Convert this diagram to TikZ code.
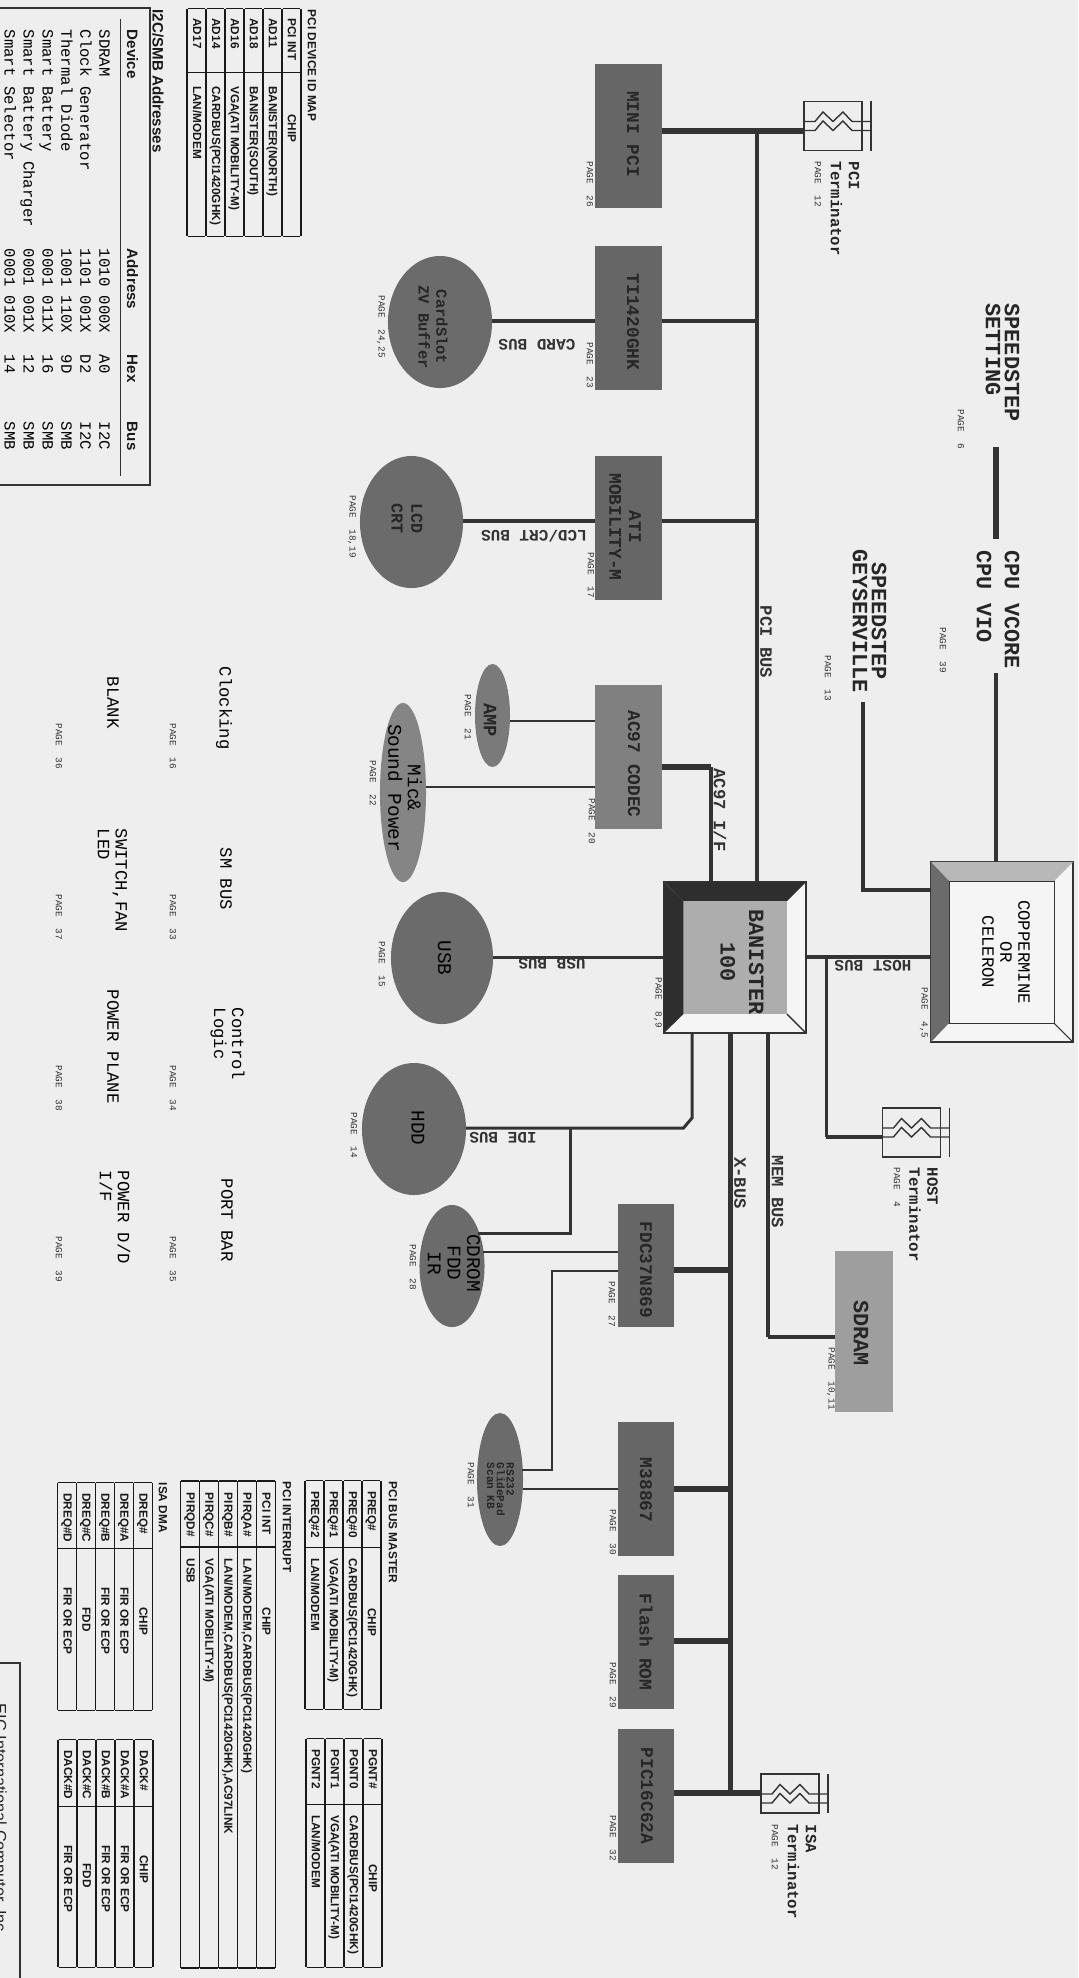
\documentclass[tikz,border=0pt]{standalone}
\usepackage{fontspec}
\setsansfont{Liberation Sans}
\setmonofont{Liberation Mono}
\usetikzlibrary{shapes,positioning}
\definecolor{paper}{gray}{0.935}
\definecolor{ink}{gray}{0.2}
\setlength{\tabcolsep}{0pt}

\begin{document}
\begin{tikzpicture}[
    x=0.01cm, y=-0.01cm,
    chipb/.style={rectangle, fill=black!60, inner sep=0pt, outer sep=0pt, minimum width=0.67cm, minimum height=1.44cm},
    chipx/.style={rectangle, fill=black!60, inner sep=0pt, outer sep=0pt, minimum width=0.565cm, minimum height=1.34cm},
    disc/.style={ellipse, fill=black!58, inner sep=0pt, outer sep=0pt},
    termbox/.style={rectangle, draw=ink, line width=0.4pt, inner sep=0pt, outer sep=0pt, minimum width=0.58cm, minimum height=0.49cm},
    bigtxt/.style={rotate=-90, inner sep=0pt, text=black!85, align=center, font=\ttfamily\bfseries\fontsize{6.2}{5.4}\selectfont},
    chiptxt/.style={rotate=-90, inner sep=0pt, text=black!85, align=center, font=\ttfamily\bfseries\fontsize{5.07}{5.6}\selectfont},
    disctxt/.style={rotate=-90, inner sep=0pt, text=black, align=center, font=\ttfamily\fontsize{5.5}{5.6}\selectfont},
    bustxt/.style={inner sep=0pt, text=black!80, font=\ttfamily\bfseries\fontsize{4.55}{5.4}\selectfont},
    sidetxt/.style={rotate=-90, anchor=west, inner sep=0pt, text=black!85, align=left, font=\ttfamily\bfseries\fontsize{4.45}{5.1}\selectfont},
    thintxt/.style={rotate=-90, anchor=west, inner sep=0pt, text=black, align=left, font=\ttfamily\fontsize{4.9}{5.1}\selectfont},
    pagetxt/.style={rotate=-90, anchor=west, inner sep=0pt, text=black!80, font=\ttfamily\fontsize{2.67}{4}\selectfont},
    tbl/.style={rotate=-90, inner sep=0pt, text=black!90, font=\sffamily\bfseries\fontsize{3.35}{5}\selectfont},
    tbltitle/.style={rotate=-90, anchor=west, inner sep=0pt, text=black!90, font=\sffamily\bfseries\fontsize{3.36}{4}\selectfont},
    bus/.style={draw=ink, line width=1.35pt},
    thickbus/.style={draw=ink, line width=1.7pt},
    midbus/.style={draw=ink, line width=0.85pt},
    thinbus/.style={draw=ink, line width=0.55pt},
    termzig/.pic={
        \draw[ink, line width=0.4pt] (0,20) -- (11,20) -- (19,10.5) -- (29,20) -- (39,10.5) -- (48,20) -- (67,20);
        \draw[ink, line width=0.4pt] (0,29) -- (11,29) -- (19,19.5) -- (29,29) -- (39,19.5) -- (48,29) -- (67,29);
    }
]
\useasboundingbox (0,0) rectangle (1078,1978);
\fill[paper] (0,0) rectangle (1078,1978);

% PCI side
\node[chipb] (minipci) at (628.5,136) {};
\node[chipb, below=0.38cm of minipci] (ti) {};
\node[chipb, below=0.66cm of ti] (ati) {};
\node[chipb, below=0.85cm of ati, fill=black!50] (ac97) {};
\node[chiptxt] (minipcilabel) at (633,134) {MINI PCI};
\node[chiptxt] (tilabel) at (633,322) {TI1420GHK};
\node[chiptxt] (atilabel) at (625,527) {ATI\\MOBILITY-M};
\node[chiptxt] (ac97label) at (634,764) {AC97 CODEC};
\node[pagetxt] (minipcipage) at (590,161) {PAGE~~26};
\node[pagetxt] (tipage) at (590,342) {PAGE~~23};
\node[pagetxt] (atipage) at (591,552) {PAGE~~17};
\node[pagetxt] (ac97page) at (592,798) {PAGE~~20};

\node[disc, minimum width=1.04cm, minimum height=1.32cm] (cardslot) at (440,322) {};
\node[disc, minimum width=1.03cm, minimum height=1.32cm] (lcd) at (411.5,522) {};
\node[disc, minimum width=0.35cm, minimum height=1.03cm, fill=black!52] (amp) at (492.5,715.5) {};
\node[disc, minimum width=0.46cm, minimum height=1.79cm, fill=black!48] (mic) at (403,792.5) {};
\node[disc, minimum width=1.02cm, minimum height=1.32cm] (usb) at (442,958) {};
\node[disc, minimum width=1.04cm, minimum height=1.32cm] (hdd) at (414,1129) {};
\node[chiptxt, font=\ttfamily\bfseries\fontsize{4.4}{5.1}\selectfont] (cardslotlabel) at (433,327) {CardSlot\\ZV Buffer};
\node[chiptxt, font=\ttfamily\bfseries\fontsize{4.74}{5.6}\selectfont] (lcdlabel) at (407,518) {LCD\\CRT};
\node[chiptxt, font=\ttfamily\bfseries\fontsize{5.35}{5.6}\selectfont] (amplabel) at (490,720) {AMP};
\node[disctxt] (miclabel) at (405,788) {Mic\&\\Sound Power};
\node[disctxt] (usblabel) at (444.5,958) {USB};
\node[disctxt] (hddlabel) at (418,1128) {HDD};
\node[pagetxt] (cardslotpage) at (381,295) {PAGE~~24,25};
\node[pagetxt] (lcdpage) at (352,495) {PAGE~~18,19};
\node[pagetxt] (amppage) at (468,694) {PAGE~~21};
\node[pagetxt] (micpage) at (373,760) {PAGE~~22};
\node[pagetxt] (usbpage) at (382,941) {PAGE~~15};
\node[pagetxt] (hddpage) at (354,1112) {PAGE~~14};

% Banister
\node[rectangle, draw=ink, fill=white!96!black, line width=0.4pt, inner sep=0pt, outer sep=0pt, minimum width=1.42cm, minimum height=1.51cm] (banister) at (735,957.5) {};
\node[rectangle, fill=black!32, inner sep=0pt, outer sep=0pt, minimum width=1.035cm, minimum height=1.13cm] (banisterin) at (735.25,957.5) {};
\fill[black!82] (banister.north west) -- (banister.north east) -- (banisterin.north east) -- (banisterin.north west) -- cycle;
\fill[black!82] (banister.north west) -- (banisterin.north west) -- (banisterin.south west) -- (banister.south west) -- cycle;
\draw[ink, line width=0.4pt] (banister.south east) -- (banisterin.south east);
\node[bigtxt, font=\ttfamily\bfseries\fontsize{6.2}{8.1}\selectfont] (banisterlabel) at (742,962) {BANISTER\\100};
\node[pagetxt] (banisterpage) at (658,977) {PAGE~~8,9};

% CPU
\node[rectangle, draw=ink, fill=white!96!black, line width=0.4pt, inner sep=0pt, outer sep=0pt, minimum width=1.42cm, minimum height=1.80cm] (cpu) at (1002,952) {};
\node[rectangle, draw=ink, line width=0.3pt, inner sep=0pt, outer sep=0pt, minimum width=1.05cm, minimum height=1.42cm] (cpuin) at (1001.5,952) {};
\fill[black!28] (cpu.north west) -- (cpu.north east) -- (cpuin.north east) -- (cpuin.north west) -- cycle;
\fill[black!58] (cpu.north west) -- (cpuin.north west) -- (cpuin.south west) -- (cpu.south west) -- cycle;
\draw[ink, line width=0.3pt] (cpu.south east) -- (cpuin.south east);
\node[thintxt, anchor=center, align=center] (cpulabel) at (1006,952) {COPPERMINE\\OR\\CELERON};
\node[pagetxt] (cpupage) at (924,987) {PAGE~~4,5};

% Power labels
\node[bigtxt, anchor=west, align=left] (speedset) at (1002.5,303) {SPEEDSTEP\\SETTING};
\node[pagetxt] (speedsetpage) at (961,409) {PAGE~~6};
\node[bigtxt, anchor=west, align=left, font=\ttfamily\bfseries\fontsize{6.2}{8}\selectfont] (vcore) at (998,550) {CPU VCORE\\CPU VIO};
\node[pagetxt] (vcorepage) at (943,627) {PAGE~~39};
\node[bigtxt] (geyser) at (869.5,621) {SPEEDSTEP\\GEYSERVILLE};
\node[pagetxt] (geyserpage) at (828,655) {PAGE~~13};

% Terminators
\node[termbox] (pciterm) at (833,126) {};
\node[termbox] (hostterm) at (911.5,1132.5) {};
\node[termbox, minimum height=0.39cm] (isaterm) at (790,1793.5) {};
\pic at (pciterm.north west) {termzig};
\pic at (hostterm.north west) {termzig};
\pic at (isaterm.north west) {termzig};
\draw[ink, line width=0.45pt] ([xshift=0.09cm]pciterm.north east) -- ([xshift=0.09cm]pciterm.south east);
\draw[ink, line width=0.45pt] ([xshift=0.09cm]hostterm.north east) -- ([xshift=0.09cm]hostterm.south east);
\draw[ink, line width=0.45pt] ([xshift=0.09cm]isaterm.north east) -- ([xshift=0.09cm]isaterm.south east);
\node[sidetxt] (pcitermlabel) at (845,161) {PCI\\Terminator};
\node[sidetxt] (hosttermlabel) at (923.5,1167) {HOST\\Terminator};
\node[sidetxt] (isatermlabel) at (802,1824) {ISA\\Terminator};
\node[pagetxt] (pcitermpage) at (818,161) {PAGE~~12};
\node[pagetxt] (hosttermpage) at (897,1167) {PAGE~~4};
\node[pagetxt] (isatermpage) at (775,1824) {PAGE~~12};

% X-bus side
\node[chipx, minimum height=1.23cm] (fdc) at (646,1265.5) {};
\node[chipx, below=0.95cm of fdc] (m38867) {};
\node[chipx, below=0.19cm of m38867] (flash) {};
\node[chipx, below=0.2cm of flash] (pic) {};
\node[chipx, minimum width=0.58cm, minimum height=1.61cm, fill=black!38] (sdram) at (864,1331.5) {};
\node[disc, minimum width=0.65cm, minimum height=1.22cm] (cdrom) at (452,1266) {};
\node[disc, minimum width=0.46cm, minimum height=1.33cm] (rsport) at (500,1479.5) {};
\node[chiptxt] (fdclabel) at (646,1270) {FDC37N869};
\node[chiptxt] (m38867label) at (646,1490) {M38867};
\node[chiptxt] (flashlabel) at (646,1642) {Flash ROM};
\node[chiptxt] (piclabel) at (647,1796) {PIC16C62A};
\node[bigtxt] (sdramlabel) at (861,1333) {SDRAM};
\node[disctxt] (cdromlabel) at (454,1263) {CDROM\\FDD\\IR};
\node[chiptxt, anchor=west, align=left, font=\ttfamily\bfseries\fontsize{3.15}{2.8}\selectfont] (rsportlabel) at (500.5,1462) {RS232\\GlidePad\\Scan KB};
\node[pagetxt] (fdcpage) at (612,1281) {PAGE~~27};
\node[pagetxt] (m38867page) at (613,1509) {PAGE~~30};
\node[pagetxt] (flashpage) at (613,1662) {PAGE~~29};
\node[pagetxt] (picpage) at (613,1815) {PAGE~~32};
\node[pagetxt] (sdrampage) at (831,1347) {PAGE~~10,11};
\node[pagetxt] (cdrompage) at (413,1244) {PAGE~~28};
\node[pagetxt] (rsportpage) at (471,1462) {PAGE~~31};

% Connectors
\coordinate (pcijoin) at (757,131);
\coordinate (tijoin) at (757,321);
\coordinate (atijoin) at (757,521);
\coordinate (acbend) at (711,767);
\coordinate (ampwire) at (510,721);
\coordinate (micwire) at (426,787);
\coordinate (usbwire) at (493,957);
\coordinate (hostjoin) at (826,957);
\coordinate (hostend) at (883,1137);
\coordinate (geytop) at (863,702);
\coordinate (geyjoin) at (863,890);
\coordinate (vcoreend) at (996,673);
\coordinate (setlo) at (996,447);
\coordinate (sethi) at (996,539);
\coordinate (memjoin) at (768,1337);
\coordinate (xjoin) at (730.5,1793);
\coordinate (fdcjoin) at (730.5,1270);
\coordinate (m38join) at (730.5,1489);
\coordinate (flashjoin) at (730.5,1641);
\coordinate (idebend) at (692,1118);
\coordinate (idecorner) at (683.5,1128);
\coordinate (idejoin) at (570.6,1128);
\coordinate (cdjoin) at (478,1233);
\coordinate (cdwire) at (483,1252);
\coordinate (fdcwire) at (552,1271);
\coordinate (rsa) at (522,1470);
\coordinate (rsb) at (523,1489);

\draw[thickbus] (minipci.east |- pcijoin) -- (pciterm.west |- pcijoin);
\draw[bus] (pcijoin) -- (pcijoin |- banister.north);
\draw[bus] (ti.east |- tijoin) -- (tijoin);
\draw[bus] (cardslot.east |- tijoin) -- (ti.west |- tijoin);
\draw[bus] (ati.east |- atijoin) -- (atijoin);
\draw[bus] (lcd.east |- atijoin) -- (ati.west |- atijoin);
\draw[thickbus] (ac97.east |- acbend) -- (acbend);
\draw[bus] (acbend) -- (acbend |- banister.north);
\draw[thinbus] (ampwire) -- (ac97.west |- ampwire);
\draw[thinbus] (micwire) -- (ac97.west |- micwire);
\draw[midbus] (usbwire) -- (banister.west |- usbwire);
\draw[bus] (banister.east |- hostjoin) -- (cpu.west |- hostjoin);
\draw[midbus] (hostjoin) -- (hostjoin |- hostend);
\draw[bus] (hostjoin |- hostend) -- (hostend);
\draw[bus] (geytop) |- (cpu.west |- geyjoin);
\draw[midbus, line width=1.1pt] (vcoreend) -- (vcoreend |- cpu.north);
\draw[thickbus] (setlo) -- (sethi);
\draw[midbus, line width=1.1pt] (banister.south -| memjoin) -- (memjoin);
\draw[bus] (memjoin) -- (sdram.west |- memjoin);
\draw[bus] (banister.south -| xjoin) -- (xjoin);
\draw[thickbus] (fdc.east |- fdcjoin) -- (fdcjoin);
\draw[thickbus] (m38867.east |- m38join) -- (m38join);
\draw[thickbus] (flash.east |- flashjoin) -- (flashjoin);
\draw[thickbus] (pic.east |- xjoin) -- (isaterm.west |- xjoin);
\draw[midbus] (banister.south -| idebend) -- (idebend) -- (idecorner) -- (hdd.east |- idecorner);
\draw[midbus] (idejoin) |- (cdjoin);
\draw[thinbus] (cdwire) -- (fdc.west |- cdwire);
\draw[thinbus] (fdc.west |- fdcwire) -- (fdcwire) |- (rsa);
\draw[thinbus] (rsb) -- (m38867.west |- rsb);

% Bus labels
\node[bustxt, rotate=180] (cardbuslabel) at (537,345) {CARD BUS};
\node[bustxt, rotate=180] (lcdbuslabel) at (534,536) {LCD/CRT BUS};
\node[bustxt, rotate=180] (usbbuslabel) at (552,964) {USB BUS};
\node[bustxt, rotate=180] (hostbuslabel) at (873,966) {HOST BUS};
\node[bustxt, rotate=180] (idebuslabel) at (503,1138) {IDE BUS};
\node[bustxt, rotate=-90, font=\ttfamily\bfseries\fontsize{4.9}{5.4}\selectfont] (pcibuslabel) at (766,642) {PCI BUS};
\node[bustxt, rotate=-90, font=\ttfamily\bfseries\fontsize{4.9}{5.4}\selectfont] (ac97iflabel) at (720,810) {AC97 I/F};
\node[bustxt, rotate=-90, font=\ttfamily\bfseries\fontsize{4.9}{5.4}\selectfont] (membuslabel) at (777.6,1192) {MEM BUS};
\node[bustxt, rotate=-90, font=\ttfamily\bfseries\fontsize{4.9}{5.4}\selectfont] (xbuslabel) at (740,1183) {X-BUS};

% Page list
\node[thintxt] (clocking) at (224,666) {Clocking};
\node[thintxt] (smbus) at (226,847) {SM BUS};
\node[thintxt] (control) at (227.5,1007) {Control\\Logic};
\node[thintxt] (portbar) at (227,1178) {PORT BAR};
\node[thintxt] (blank) at (113,676) {BLANK};
\node[thintxt] (switchfan) at (112.5,828) {SWITCH,FAN\\LED};
\node[thintxt] (powerplane) at (113,989) {POWER PLANE};
\node[thintxt] (powerdd) at (115,1170) {POWER D/D\\I/F};
\node[pagetxt] (clockingpage) at (173,723) {PAGE~~16};
\node[pagetxt] (smbuspage) at (173,894) {PAGE~~33};
\node[pagetxt] (controlpage) at (173,1065) {PAGE~~34};
\node[pagetxt] (portbarpage) at (173,1236) {PAGE~~35};
\node[pagetxt] (blankpage) at (59,723) {PAGE~~36};
\node[pagetxt] (switchfanpage) at (59,894) {PAGE~~37};
\node[pagetxt] (powerplanepage) at (59,1065) {PAGE~~38};
\node[pagetxt] (powerddpage) at (59,1236) {PAGE~~39};

% Tables
\node[tbltitle] (devmaptitle) at (312,9) {PCI DEVICE ID MAP};
\node[tbl] (devmap) at (244,122.5) {\begin{tabular}{|@{\hspace{0.9mm}}p{5.4mm}|@{\hspace{1.3mm}}p{15mm}|}
\hline
PCI INT & \hspace*{2.8mm}CHIP\\ \hline
AD11 & BANISTER(NORTH)\\ \hline
AD18 & BANISTER(SOUTH)\\ \hline
AD16 & VGA(ATI MOBILITY-M)\\ \hline
AD14 & CARDBUS(PCI1420GHK)\\ \hline
AD17 & LAN/MODEM\\ \hline
\end{tabular}};

\node[tbltitle, font=\sffamily\bfseries\fontsize{4.3}{5}\selectfont] (i2ctitle) at (158,9) {I2C/SMB Addresses};
\draw[ink, line width=0.4pt] (0,8) -- (150,8) -- (150,485) -- (0,485);
\draw[ink, line width=0.4pt] (120.5,19) -- (120.5,476);
\node[rotate=-90, anchor=west, inner sep=0pt, text=black!90, font=\sffamily\bfseries\fontsize{4.3}{5.4}\selectfont] (i2chead) at (131,29) {\begin{tabular}{@{}p{21.9mm}p{10.6mm}p{6.7mm}p{5.5mm}@{}}
Device & Address & Hex & Bus
\end{tabular}};
\node[rotate=-90, anchor=west, inner sep=0pt, text=black, font=\ttfamily\fontsize{4.45}{5.4}\selectfont] (i2cbody) at (55.8,29) {\begin{tabular}{@{}p{21.9mm}p{10.6mm}p{6.7mm}p{5.5mm}@{}}
SDRAM & 1010 000X & A0 & I2C\\
Clock Generator & 1101 001X & D2 & I2C\\
Thermal Diode & 1001 110X & 9D & SMB\\
Smart Battery & 0001 011X & 16 & SMB\\
Smart Battery Charger & 0001 001X & 12 & SMB\\
Smart Selector & 0001 010X & 14 & SMB
\end{tabular}};

\node[tbltitle] (mastertitle) at (393,1481) {PCI BUS MASTER};
\node[tbl] (master) at (343,1595) {\begin{tabular}{|@{\hspace{1mm}}p{5.6mm}|@{\hspace{1mm}}p{15.1mm}|}
\hline
PREQ\# & \hspace*{5mm}CHIP\\ \hline
PREQ\#0 & CARDBUS(PCI1420GHK)\\ \hline
PREQ\#1 & VGA(ATI MOBILITY-M)\\ \hline
PREQ\#2 & LAN/MODEM\\ \hline
\end{tabular}};
\node[tbl] (grant) at (344,1853) {\begin{tabular}{|@{\hspace{1mm}}p{5.5mm}|@{\hspace{1mm}}p{15.2mm}|}
\hline
PGNT\# & \hspace*{4.9mm}CHIP\\ \hline
PGNT0 & CARDBUS(PCI1420GHK)\\ \hline
PGNT1 & VGA(ATI MOBILITY-M)\\ \hline
PGNT2 & LAN/MODEM\\ \hline
\end{tabular}};

\node[tbltitle] (introutetitle) at (287,1481) {PCI INTERRUPT};
\node[tbl] (introute) at (228,1724.5) {\begin{tabular}{|@{\hspace{1.1mm}}p{5.4mm}|@{\hspace{1.1mm}}p{40.9mm}|}
\hline
PCI INT & \hspace*{4.9mm}CHIP\\ \hline
PIRQA\# & LAN/MODEM,CARDBUS(PCI1420GHK)\\ \hline
PIRQB\# & LAN/MODEM,CARDBUS(PCI1420GHK),AC97LINK\\ \hline
PIRQC\# & VGA(ATI MOBILITY-M)\\ \hline
PIRQD\# & USB\\ \hline
\end{tabular}};

\node[tbltitle] (isatitle) at (163,1482) {ISA DMA};
\node[tbl] (isareq) at (105,1596.5) {\begin{tabular}{|@{\hspace{1mm}}p{5.5mm}|p{16.2mm}|}
\hline
DREQ\# & \hspace*{5.9mm}CHIP\\ \hline
DREQ\#A & \hspace*{3.9mm}FIR OR ECP\\ \hline
DREQ\#B & \hspace*{3.9mm}FIR OR ECP\\ \hline
DREQ\#C & \hspace*{5.9mm}FDD\\ \hline
DREQ\#D & \hspace*{3.9mm}FIR OR ECP\\ \hline
\end{tabular}};
\node[tbl] (isaack) at (105.5,1853.5) {\begin{tabular}{|@{\hspace{1mm}}p{5.6mm}|p{16.1mm}|}
\hline
DACK\# & \hspace*{4.9mm}CHIP\\ \hline
DACK\#A & \hspace*{3.9mm}FIR OR ECP\\ \hline
DACK\#B & \hspace*{3.9mm}FIR OR ECP\\ \hline
DACK\#C & \hspace*{5.7mm}FDD\\ \hline
DACK\#D & \hspace*{3.9mm}FIR OR ECP\\ \hline
\end{tabular}};

% Title block, cut by the page edge
\draw[ink, line width=0.4pt] (0,1663) -- (20,1663) -- (20,1978);
\node[rotate=-90, anchor=base west, inner sep=0pt, text=black!85, font=\sffamily\fontsize{4.65}{5}\selectfont] (eic) at (-5,1703) {EIC International Computer, Inc};

\end{tikzpicture}
\end{document}
